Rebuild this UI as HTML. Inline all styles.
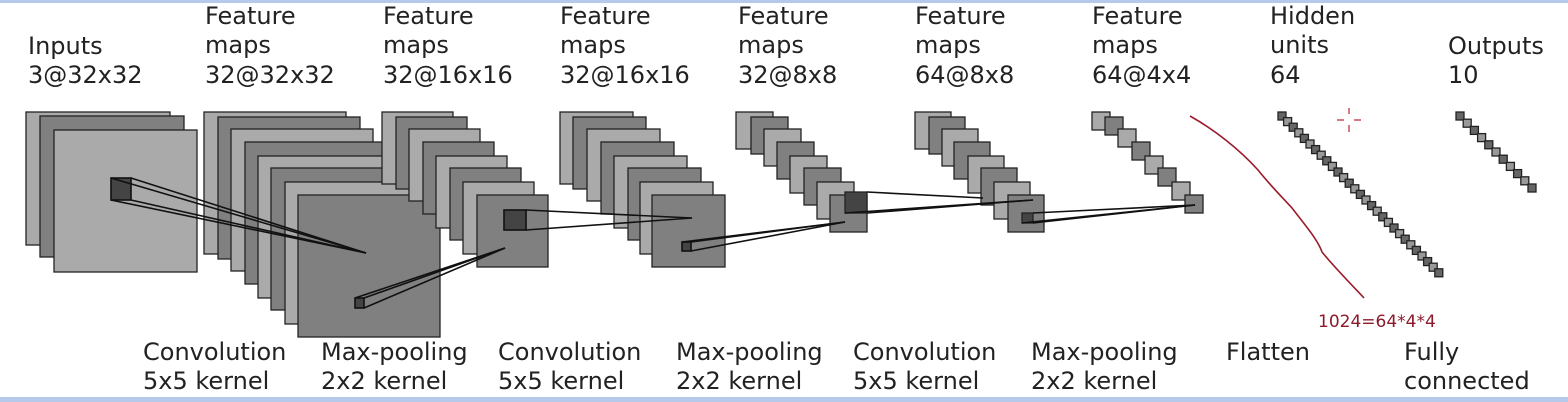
<!DOCTYPE html>
<html><head><meta charset="utf-8">
<style>
html,body{margin:0;padding:0;background:#fff;}
svg{display:block;}
text{font-family:"DejaVu Sans","Liberation Sans",sans-serif;font-size:24px;fill:#222;}
</style></head>
<body>
<svg id="s" width="1568" height="402" viewBox="0 0 1568 402" xmlns="http://www.w3.org/2000/svg">
<rect x="0" y="0" width="1568" height="402" fill="#fff"/>
<rect x="0" y="0" width="1568" height="3" fill="#b7c9ea"/>
<rect x="0" y="397" width="1568" height="5" fill="#b7c9ea"/>
<g id="shapes"></g>
<g stroke="#111" stroke-width="1.6" fill="none" id="lines">
<!-- input cube to conv1 -->
<rect x="111" y="178" width="20" height="22" fill="#444"/>
<line x1="131" y1="178" x2="366" y2="253"/>
<line x1="131" y1="200" x2="366" y2="253"/>
<line x1="111" y1="178" x2="366" y2="253"/>
<line x1="111" y1="200" x2="366" y2="253"/>
<!-- pool -->
<rect x="355" y="298" width="9" height="10" fill="#444"/>
<line x1="355" y1="298" x2="505" y2="248"/>
<line x1="364" y1="298" x2="505" y2="248"/>
<line x1="364" y1="308" x2="505" y2="248"/>
<!-- stack3 to 4 -->
<rect x="504" y="210" width="22" height="20" fill="#444"/>
<line x1="526" y1="210" x2="692" y2="218"/>
<line x1="526" y1="230" x2="692" y2="218"/>
<!-- stack4 -->
<rect x="682" y="242" width="9" height="9" fill="#444"/>
<line x1="682" y1="242" x2="845" y2="222"/>
<line x1="691" y1="242" x2="845" y2="222"/>
<line x1="691" y1="251" x2="845" y2="222"/>
</g>
<g id="top"></g>
<path d="M1190,116 C1215,130 1240,150 1258,170 C1270,185 1280,195 1292,208 C1305,225 1318,240 1322,252 C1335,268 1350,283 1364,298" stroke="#9b1b2b" stroke-width="1.6" fill="none"/>
<g stroke="#c04050" stroke-width="1.4">
<line x1="1349" y1="108" x2="1349" y2="114"/><line x1="1349" y1="125" x2="1349" y2="132"/>
<line x1="1337" y1="120" x2="1344" y2="120"/><line x1="1354" y1="120" x2="1361" y2="120"/>
</g>
<text x="1318" y="327" style="font-size:17px;fill:#8b1a2b">1024=64*4*4</text>

<text x="28" y="54">Inputs</text><text x="28" y="83">3@32x32</text>
<text x="205" y="24">Feature</text><text x="205" y="53">maps</text><text x="205" y="83">32@32x32</text>
<text x="383" y="24">Feature</text><text x="383" y="53">maps</text><text x="383" y="83">32@16x16</text>
<text x="560" y="24">Feature</text><text x="560" y="53">maps</text><text x="560" y="83">32@16x16</text>
<text x="738" y="24">Feature</text><text x="738" y="53">maps</text><text x="738" y="83">32@8x8</text>
<text x="915" y="24">Feature</text><text x="915" y="53">maps</text><text x="915" y="83">64@8x8</text>
<text x="1092" y="24">Feature</text><text x="1092" y="53">maps</text><text x="1092" y="83">64@4x4</text>
<text x="1270" y="24">Hidden</text><text x="1270" y="53">units</text><text x="1270" y="83">64</text>
<text x="1448" y="54">Outputs</text><text x="1448" y="83">10</text>

<text x="143" y="360">Convolution</text><text x="143" y="389">5x5 kernel</text>
<text x="321" y="360">Max-pooling</text><text x="321" y="389">2x2 kernel</text>
<text x="498" y="360">Convolution</text><text x="498" y="389">5x5 kernel</text>
<text x="676" y="360">Max-pooling</text><text x="676" y="389">2x2 kernel</text>
<text x="853" y="360">Convolution</text><text x="853" y="389">5x5 kernel</text>
<text x="1031" y="360">Max-pooling</text><text x="1031" y="389">2x2 kernel</text>
<text x="1226" y="360">Flatten</text>
<text x="1404" y="360">Fully</text><text x="1404" y="389">connected</text>
</svg>
<script>
var NS="http://www.w3.org/2000/svg";
var g=document.getElementById("shapes"), tg=document.getElementById("top");
function R(p,x,y,w,h,f){var r=document.createElementNS(NS,"rect");r.setAttribute("x",x);r.setAttribute("y",y);r.setAttribute("width",w);r.setAttribute("height",h);r.setAttribute("fill",f);r.setAttribute("stroke","#222");r.setAttribute("stroke-width","1.3");p.appendChild(r);}
function L(p,a,b,c,d){var l=document.createElementNS(NS,"line");l.setAttribute("x1",a);l.setAttribute("y1",b);l.setAttribute("x2",c);l.setAttribute("y2",d);l.setAttribute("stroke","#111");l.setAttribute("stroke-width","1.6");p.appendChild(l);}
var LI="#aaaaaa",DK="#808080";
// input
R(g,26,112,144,133,LI);R(g,40,116,144,141,DK);R(g,54,130,143,142,LI);
var tops=[112,117,129,142,156,168,182,195];
function stack(lefts,w,hs,frontDark){for(var i=0;i<8;i++){var c=(i%2==0)?LI:DK;if(i==7)c=DK;R(g,lefts[i],tops[i],w,hs,c);}}
stack([204,218,231,245,258,271,285,298],142,142);
stack([382,396,409,423,436,450,463,477],71,72);
stack([560,573,587,601,614,628,640,652],73,72);
stack([736,751,764,777,790,804,817,830],37,37);
stack([915,929,942,954,968,981,994,1008],36,37);
stack([1092,1105,1118,1132,1145,1158,1172,1185],18,18);
// hidden
for(var i=0;i<29;i++){R(g,1278+i*5.6,112+i*5.6,8,8,i%2?"#999":"#666");}
for(var i=0;i<11;i++){R(g,1456+i*7.2,112+i*7.2,8,8,i%2?"#999":"#666");}
// extra connectors drawn on top
var lg=document.getElementById("lines");
R(lg,845,192,22,21,"#444");
L(lg,867,192,983,198);L(lg,867,213,1033,200);L(lg,845,213,1033,200);
R(lg,1022,213,11,10,"#444");
L(lg,1033,213,1195,205);L(lg,1033,223,1195,205);L(lg,1022,223,1195,205);
</script>
</body></html>
